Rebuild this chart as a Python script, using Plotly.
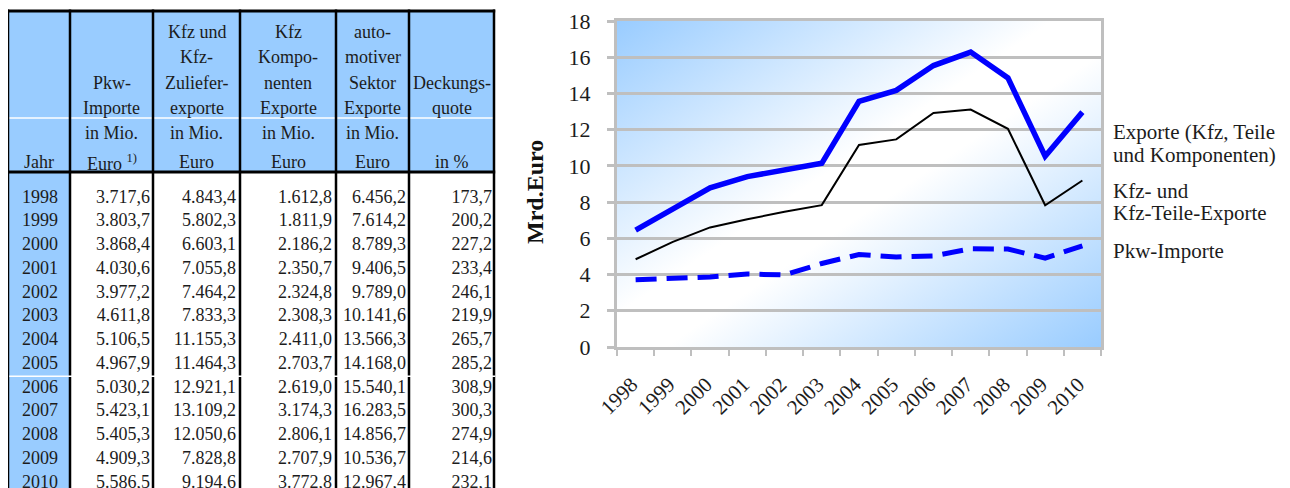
import base64
import plotly.graph_objects as go

# ---------------- data ----------------
years = [1998, 1999, 2000, 2001, 2002, 2003, 2004, 2005, 2006, 2007, 2008, 2009, 2010]
pkw_importe = [3717.6, 3803.7, 3868.4, 4030.6, 3977.2, 4611.8, 5106.5, 4967.9, 5030.2, 5423.1, 5405.3, 4909.3, 5586.5]
kfz_zuliefer_exporte = [4843.4, 5802.3, 6603.1, 7055.8, 7464.2, 7833.3, 11155.3, 11464.3, 12921.1, 13109.2, 12050.6, 7828.8, 9194.6]
komponenten_exporte = [1612.8, 1811.9, 2186.2, 2350.7, 2324.8, 2308.3, 2411.0, 2703.7, 2619.0, 3174.3, 2806.1, 2707.9, 3772.8]
sektor_exporte = [6456.2, 7614.2, 8789.3, 9406.5, 9789.0, 10141.6, 13566.3, 14168.0, 15540.1, 16283.5, 14856.7, 10536.7, 12967.4]
deckungsquote = [173.7, 200.2, 227.2, 233.4, 246.1, 219.9, 265.7, 285.2, 308.9, 300.3, 274.9, 214.6, 232.1]

header_top = [[], ["Pkw-", "Importe"], ["Kfz und", "Kfz-", "Zuliefer-", "exporte"],
              ["Kfz", "Kompo-", "nenten", "Exporte"], ["auto-", "motiver", "Sektor", "Exporte"],
              ["Deckungs-", "quote"]]
header_bottom = [["", "Jahr"], ["in Mio.", "Euro <sup>1)</sup>"], ["in Mio.", "Euro"],
                 ["in Mio.", "Euro"], ["in Mio.", "Euro"], ["", "in %"]]

series_labels = [["Exporte (Kfz, Teile", "und Komponenten)"], ["Kfz- und", "Kfz-Teile-Exporte"], ["Pkw-Importe"]]
y_title = "Mrd.Euro"

# ---------------- style / layout constants ----------------
W, H = 1290, 488
OX, OY = 8, 8          # page margin offset of the figure inside the window
FONT = "Liberation Serif"
TXT = "#1c1c1c"
BLUE_FILL = "#99CCFF"
GRID = "#BFBFBF"

def pxx(x):
    return (x - OX) / W

def pxy(y):
    return 1 - (y - OY) / H

# table geometry (window pixel units on the table axes)
col_edges = [8, 70, 153, 240, 336, 409, 494]
tbl_top, hdr_mid, hdr_bot = 11, 118, 172
row0, row_pitch = 198, 23.75
num_right = [150, 236, 332, 406, 492]
year_x = 40

def de(v):
    s = f"{v:,.1f}"
    return s.replace(",", "X").replace(".", ",").replace("X", ".")

fig = go.Figure()

# ---------------- chart ----------------
px_l, px_r, px_t, px_b = 617, 1101, 21, 347
to_bn = lambda arr: [v / 1000 for v in arr]
cats = [str(y) for y in years]

fig.add_trace(go.Scatter(x=cats, y=to_bn(sektor_exporte), mode="lines",
                         line=dict(color="#0000FF", width=5.5), hoverinfo="skip", showlegend=False))
fig.add_trace(go.Scatter(x=cats, y=to_bn(kfz_zuliefer_exporte), mode="lines",
                         line=dict(color="#000000", width=2), hoverinfo="skip", showlegend=False))
fig.add_trace(go.Scatter(x=cats, y=to_bn(pkw_importe), mode="lines",
                         line=dict(color="#0000FF", width=5, dash="21px,10px"), hoverinfo="skip", showlegend=False))

# ---------------- table ----------------
def add_col_text(xs, values, pos):
    fig.add_trace(go.Scatter(x=xs, y=[row0 + i * row_pitch for i in range(len(values))],
                             text=values, mode="text", textposition=pos,
                             textfont=dict(family=FONT, size=18, color=TXT),
                             xaxis="x2", yaxis="y2", cliponaxis=False,
                             hoverinfo="skip", showlegend=False))

add_col_text([year_x] * len(years), [str(y) for y in years], "middle center")
for xr, col in zip(num_right, [pkw_importe, kfz_zuliefer_exporte, komponenten_exporte, sektor_exporte]):
    add_col_text([xr] * len(col), [de(v) for v in col], "middle left")
add_col_text([num_right[4]] * len(deckungsquote), [de(v) for v in deckungsquote], "middle left")

shapes = []
shapes.append(dict(type="rect", xref="x2", yref="y2", x0=col_edges[0], x1=col_edges[-1],
                   y0=tbl_top, y1=hdr_bot, fillcolor=BLUE_FILL, line=dict(width=0), layer="below"))
shapes.append(dict(type="rect", xref="x2", yref="y2", x0=col_edges[0], x1=col_edges[1],
                   y0=hdr_bot, y1=H + 20, fillcolor=BLUE_FILL, line=dict(width=0), layer="below"))
shapes.append(dict(type="line", xref="x2", yref="y2", x0=col_edges[0], x1=col_edges[-1],
                   y0=hdr_mid, y1=hdr_mid, line=dict(color="white", width=1.5)))
for xe in col_edges:
    shapes.append(dict(type="line", xref="x2", yref="y2", x0=xe, x1=xe, y0=tbl_top - 1.5, y1=H + 20,
                       line=dict(color="black", width=2.5)))
for yy in (tbl_top, hdr_bot):
    shapes.append(dict(type="line", xref="x2", yref="y2", x0=col_edges[0] - 1.2, x1=col_edges[-1] + 1.2,
                       y0=yy, y1=yy, line=dict(color="black", width=3)))
yb = row0 + 7.5 * row_pitch
shapes.append(dict(type="line", xref="x2", yref="y2", x0=col_edges[0] + 1.3, x1=col_edges[-1] + 1.3,
                   y0=yb, y1=yb, line=dict(color="white", width=1.5)))

annotations = []
centers = [(col_edges[i] + col_edges[i + 1]) / 2 for i in range(6)]
top_last, top_pitch = 108, 25.5
for cx, lines in zip(centers, header_top):
    n = len(lines)
    for j, t in enumerate(lines):
        annotations.append(dict(x=cx, y=top_last - (n - 1 - j) * top_pitch, xref="x2", yref="y2",
                                text=t, showarrow=False, xanchor="center", yanchor="middle",
                                font=dict(family=FONT, size=18, color=TXT)))
for cx, lines in zip(centers, header_bottom):
    for yy, t in zip((133, 162), lines):
        if t:
            annotations.append(dict(x=cx, y=yy, xref="x2", yref="y2", text=t, showarrow=False,
                                    xanchor="center", yanchor="middle",
                                    font=dict(family=FONT, size=18, color=TXT)))

annotations.append(dict(x=pxx(535), y=pxy(192), xref="paper", yref="paper", text="<b>" + y_title + "</b>",
                        textangle=-90, showarrow=False, xanchor="center", yanchor="middle",
                        font=dict(family=FONT, size=24, color="#111")))
label_y = [[132, 155], [191, 213], [251]]
for lines, ys in zip(series_labels, label_y):
    for t, yy in zip(lines, ys):
        annotations.append(dict(x=pxx(1111), y=pxy(yy), xref="paper", yref="paper", text=t,
                                showarrow=False, xanchor="left", yanchor="middle", align="left",
                                font=dict(family=FONT, size=21, color=TXT)))

svg = ('<svg xmlns="http://www.w3.org/2000/svg" width="200" height="200" viewBox="0 0 200 200" '
       'preserveAspectRatio="none"><defs><linearGradient id="g" x1="0" y1="0" x2="1" y2="1">'
       '<stop offset="0" stop-color="#99CCFF"/><stop offset="0.45" stop-color="#FFFFFF"/>'
       '<stop offset="0.55" stop-color="#FFFFFF"/><stop offset="1" stop-color="#99CCFF"/>'
       '</linearGradient></defs><rect width="200" height="200" fill="url(#g)"/></svg>')
src = "data:image/svg+xml;base64," + base64.b64encode(svg.encode()).decode()

fig.update_layout(
    width=W, height=H, autosize=False,
    margin=dict(l=0, r=0, t=0, b=0, pad=0),
    paper_bgcolor="white", plot_bgcolor="rgba(0,0,0,0)",
    font=dict(family=FONT, color=TXT),
    showlegend=False,
    shapes=shapes, annotations=annotations,
    images=[dict(source=src, xref="paper", yref="paper", x=pxx(px_l), y=pxy(px_t),
                 sizex=(px_r - px_l) / W, sizey=(px_b - px_t) / H, xanchor="left", yanchor="top",
                 sizing="stretch", layer="below")],
    xaxis=dict(domain=[pxx(px_l), pxx(px_r)], type="category", range=[-0.5, len(years) - 0.5],
               tickson="boundaries", ticks="outside", ticklen=6, tickwidth=1.5, tickcolor=GRID,
               showline=True, linecolor=GRID, linewidth=3, mirror=True, showgrid=False,
               tickangle=-45, tickfont=dict(family=FONT, size=21, color=TXT), fixedrange=True,
               automargin=False, ticklabelstandoff=14, ticklabelshift=-4),
    yaxis=dict(domain=[pxy(px_b), pxy(px_t)], range=[0, 18], dtick=2, showgrid=True,
               gridcolor=GRID, gridwidth=3, showline=True, linecolor=GRID, linewidth=3, mirror=True,
               ticks="outside", ticklen=7, tickwidth=3, tickcolor=GRID, zeroline=False,
               tickfont=dict(family=FONT, size=22, color=TXT), ticklabelstandoff=12, fixedrange=True,
               automargin=False),
    xaxis2=dict(domain=[0, 1], range=[OX, W + OX], anchor="y2", visible=False, fixedrange=True,
                automargin=False),
    yaxis2=dict(domain=[0, 1], range=[H + OY, OY], anchor="x2", visible=False, fixedrange=True,
                automargin=False),
)

fig.write_html("out.html")
